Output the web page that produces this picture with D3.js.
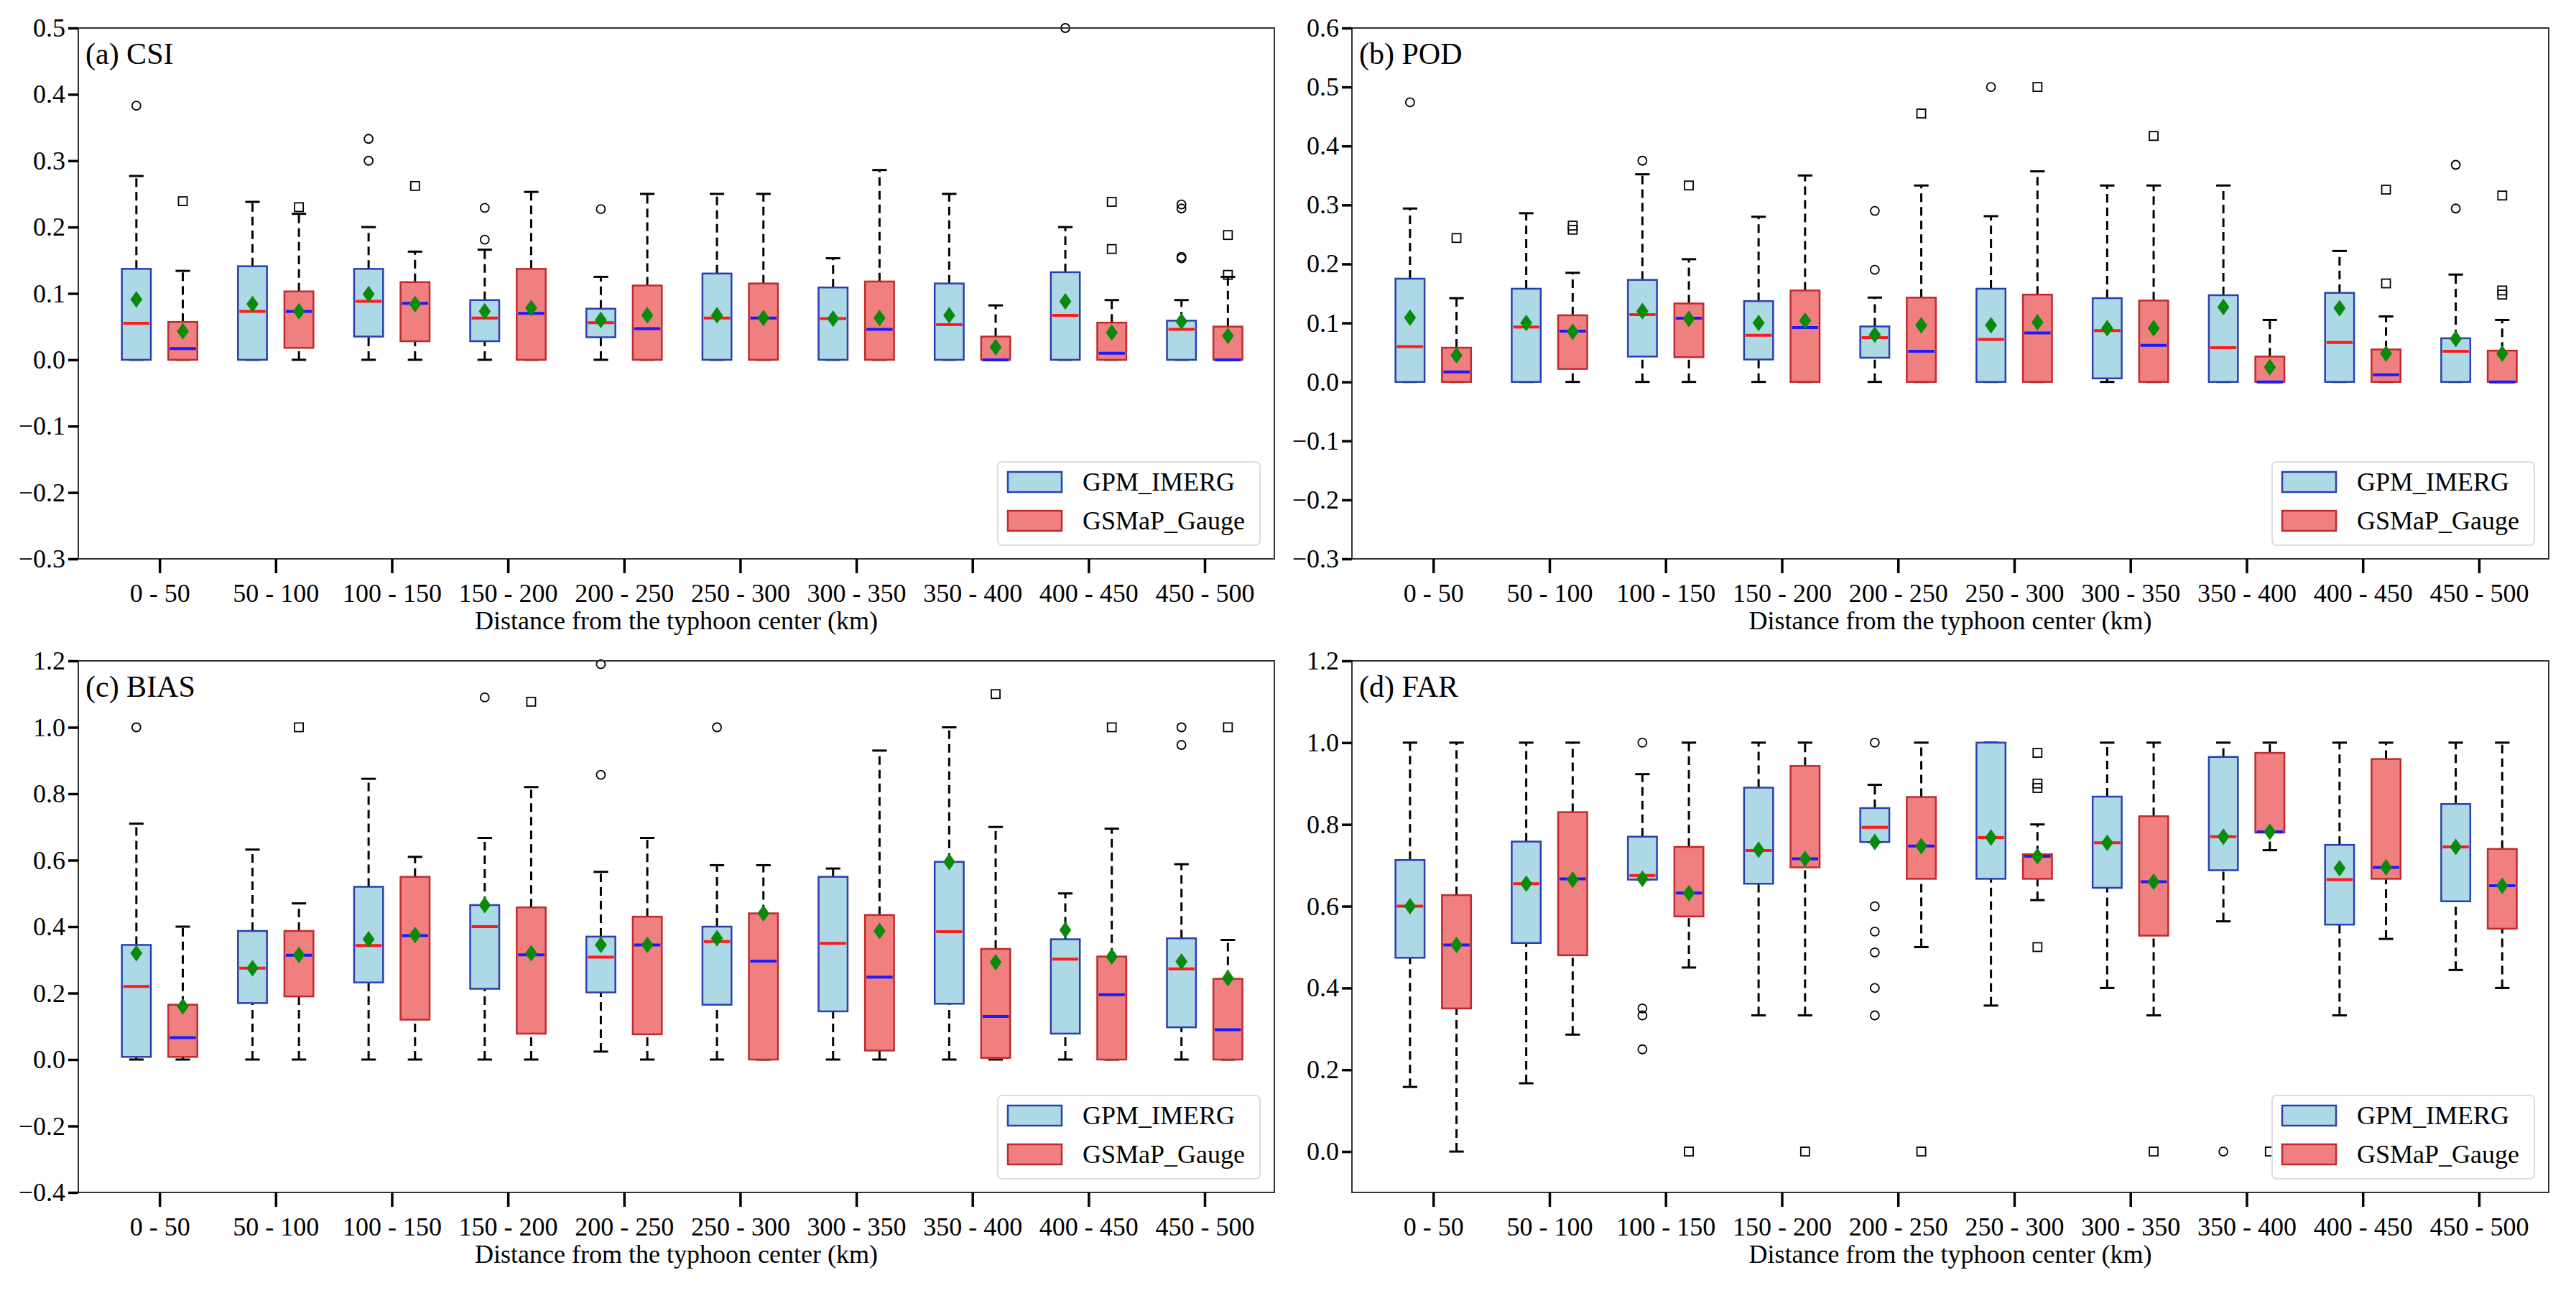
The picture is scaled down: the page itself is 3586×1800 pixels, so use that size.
<!DOCTYPE html>
<html><head><meta charset="utf-8">
<script src="https://cdn.jsdelivr.net/npm/d3@7"></script>
<style>body{margin:0;background:#fff}svg{font-family:"Liberation Serif","DejaVu Serif",serif}</style>
</head><body><div id="vis"></div>
<script>
// distance bins
let categories = ['0 - 50','50 - 100','100 - 150','150 - 200','200 - 250','250 - 300','300 - 350','350 - 400','400 - 450','450 - 500'];
let seriesNames = ['GPM_IMERG','GSMaP_Gauge'];

// each row: [q1, median, q3, whisker low, whisker high, mean, outliers]
let csiGPM = [[0,.055,.137,0,.277,.091,[.383]],[0,.073,.141,0,.238,.084,[]],[.035,.088,.137,0,.2,.099,[.30,.333]],[.028,.063,.09,0,.166,.073,[.181,.229]],[.034,.056,.077,0,.125,.06,[.227]],[0,.063,.13,0,.25,.067,[]],[0,.062,.109,0,.153,.062,[]],[0,.053,.115,0,.25,.067,[]],[0,.067,.132,0,.2,.088,[.5]],[0,.046,.059,0,.09,.058,[.153,.155,.228,.234]]];
let csiGSM = [[0,.017,.057,0,.134,.043,[.239]],[.018,.073,.103,0,.22,.073,[.23]],[.028,.085,.117,0,.163,.084,[.262]],[0,.07,.137,0,.253,.078,[]],[0,.047,.112,0,.25,.067,[]],[0,.063,.115,0,.25,.063,[]],[0,.046,.118,0,.286,.063,[]],[0,0,.035,0,.082,.019,[]],[0,.01,.056,0,.09,.041,[.167,.238]],[0,0,.05,0,.125,.036,[.128,.188]]];
let podGPM = [[0,.06,.175,0,.294,.109,[.474]],[0,.093,.158,0,.286,.1,[]],[.043,.114,.173,0,.352,.12,[.375]],[.038,.079,.137,0,.28,.1,[]],[.041,.075,.094,0,.143,.08,[.19,.29]],[0,.072,.158,0,.281,.096,[.5]],[.006,.087,.142,0,.333,.091,[]],[0,.058,.147,0,.333,.127,[]],[0,.067,.151,0,.222,.125,[]],[0,.052,.074,0,.182,.073,[.294,.368]]];
let podGSM = [[0,.017,.058,0,.142,.045,[.244]],[.022,.086,.113,0,.185,.085,[.258,.265]],[.042,.108,.133,0,.208,.107,[.333]],[0,.092,.155,0,.35,.104,[]],[0,.052,.143,0,.333,.096,[.455]],[0,.083,.148,0,.357,.101,[.5]],[0,.062,.138,0,.333,.091,[.417]],[0,0,.043,0,.105,.025,[]],[0,.012,.055,0,.111,.048,[.167,.326]],[0,0,.053,0,.105,.048,[.148,.155,.316]]];
let biasGPM = [[.008,.22,.345,0,.71,.32,[1.0]],[.17,.275,.387,0,.632,.275,[]],[.232,.343,.52,0,.845,.362,[]],[.213,.4,.465,0,.667,.465,[1.09]],[.202,.308,.37,.024,.565,.345,[.857,1.19]],[.165,.355,.4,0,.585,.365,[1.0]],[.145,.35,.55,0,.575,null,[]],[.168,.385,.595,0,1.0,.595,[]],[.078,.302,.362,0,.5,.39,[]],[.097,.273,.365,0,.588,.295,[.947,1.0]]];
let biasGSM = [[.008,.066,.165,0,.4,.16,[]],[.19,.314,.387,0,.47,.315,[1.0]],[.12,.373,.55,0,.61,.375,[]],[.078,.315,.458,0,.82,.32,[1.077]],[.076,.345,.43,0,.667,.345,[]],[0,.296,.44,0,.585,.44,[]],[.027,.248,.435,0,.93,.387,[]],[.005,.13,.333,0,.7,.293,[1.1]],[0,.195,.31,0,.695,.31,[1.0]],[0,.09,.243,0,.36,.245,[1.0]]];
let farGPM = [[.474,.6,.713,.158,1,.6,[]],[.51,.655,.758,.167,1,.655,[]],[.665,.675,.77,.665,.923,.667,[.25,.333,.35,1.0]],[.655,.736,.89,.333,1,.738,[]],[.757,.793,.84,.757,.897,.757,[.333,.4,.487,.538,.6,1.0]],[.667,.768,1,.357,1,.768,[]],[.645,.755,.868,.4,1,.755,[]],[.688,.77,.965,.563,1,.77,[0]],[.555,.665,.75,.333,1,.693,[]],[.612,.745,.85,.444,1,.745,[]]];
let farGSM = [[.35,.505,.627,0,1,.505,[]],[.48,.667,.83,.286,1,.665,[]],[.575,.632,.745,.45,1,.632,[0]],[.695,.716,.943,.333,1,.716,[0]],[.667,.747,.867,.5,1,.747,[0]],[.667,.722,.727,.615,.8,.722,[.5,.889,.9,.975]],[.528,.66,.82,.333,1,.66,[0]],[.78,.782,.975,.737,1,.782,[0]],[.667,.695,.96,.52,1,.695,[]],[.545,.65,.74,.4,1,.65,[]]];

let csiTicks = [-0.3,-0.2,-0.1,0,0.1,0.2,0.3,0.4,0.5];
let podTicks = [-0.3,-0.2,-0.1,0,0.1,0.2,0.3,0.4,0.5,0.6];
let biasTicks = [-0.4,-0.2,0,0.2,0.4,0.6,0.8,1.0,1.2];
let farTicks = [0,0.2,0.4,0.6,0.8,1.0,1.2];

let panels = [
  {title:'(a) CSI', g:csiGPM, s:csiGSM, dom:[-0.3,0.5], ticks:csiTicks, x0:109, x1:1774, y0:39, y1:778},
  {title:'(b) POD', g:podGPM, s:podGSM, dom:[-0.3,0.6], ticks:podTicks, x0:1882, x1:3548, y0:39, y1:778},
  {title:'(c) BIAS', g:biasGPM, s:biasGSM, dom:[-0.4,1.2], ticks:biasTicks, x0:109, x1:1774, y0:920, y1:1660},
  {title:'(d) FAR', g:farGPM, s:farGSM, dom:[-0.1,1.2], ticks:farTicks, x0:1882, x1:3548, y0:920, y1:1660}
];

let styles = [
  {fill:'#add8e6', edge:'#2b3fae', med:'#ff1a1a', flier:'circle'},
  {fill:'#f08080', edge:'#c02a2a', med:'#1a1aff', flier:'square'}
];

let svg = d3.select('#vis').append('svg').attr('width',3586).attr('height',1800);

panels.forEach(p => {
  let x = d3.scaleLinear().domain([-0.7, 9.6]).range([p.x0, p.x1]);
  let y = d3.scaleLinear().domain(p.dom).range([p.y1, p.y0]);
  let g = svg.append('g');
  let bw = x(0.25) - x(0);

  [p.g, p.s].forEach((data, si) => {
    let st = styles[si], off = si === 0 ? -0.2 : 0.2;
    data.forEach((d, i) => {
      let cx = x(i + off);
      let [q1, med, q3, lo, hi, mean, out] = d;
      // whiskers
      [[lo, q1], [q3, hi]].forEach(([a, b]) => {
        if (a !== b) g.append('line').attr('x1',cx).attr('x2',cx).attr('y1',y(a)).attr('y2',y(b))
          .attr('stroke','#000').attr('stroke-width',3).attr('stroke-dasharray','12,7');
      });
      [lo, hi].forEach(v => g.append('line').attr('x1',cx-bw/4).attr('x2',cx+bw/4).attr('y1',y(v)).attr('y2',y(v))
        .attr('stroke','#000').attr('stroke-width',3));
      g.append('rect').attr('x',cx-bw/2).attr('width',bw).attr('y',y(q3)).attr('height',Math.max(1,y(q1)-y(q3)))
        .attr('fill',st.fill).attr('stroke',st.edge).attr('stroke-width',2.5);
      g.append('line').attr('x1',cx-bw/2+2).attr('x2',cx+bw/2-2).attr('y1',y(med)).attr('y2',y(med))
        .attr('stroke',st.med).attr('stroke-width',4);
      out.forEach(v => {
        if (st.flier === 'circle') g.append('circle').attr('cx',cx).attr('cy',y(v)).attr('r',6)
          .attr('fill','none').attr('stroke','#000').attr('stroke-width',1.8);
        else g.append('rect').attr('x',cx-6).attr('y',y(v)-6).attr('width',12).attr('height',12)
          .attr('fill','none').attr('stroke','#000').attr('stroke-width',1.8);
      });
      if (mean !== null) g.append('path').attr('d', d3.symbol(d3.symbolDiamond2, 220)())
        .attr('transform',`translate(${cx},${y(mean)}) scale(0.9,1.25)`).attr('fill','#0a8a0a');
    });
  });

  // frame
  g.append('rect').attr('x',p.x0).attr('y',p.y0).attr('width',p.x1-p.x0).attr('height',p.y1-p.y0)
    .attr('fill','none').attr('stroke','#333').attr('stroke-width',2);

  let yAxis = d3.axisLeft(y).tickValues(p.ticks).tickFormat(d3.format('.1f')).tickSize(14).tickPadding(4);
  let ya = g.append('g').attr('transform',`translate(${p.x0},0)`).call(yAxis);
  let xAxis = d3.axisBottom(x).tickValues(d3.range(10)).tickFormat(i => categories[i]).tickSize(20).tickPadding(14);
  let xa = g.append('g').attr('transform',`translate(0,${p.y1})`).call(xAxis);
  [ya, xa].forEach(a => {
    a.select('.domain').remove();
    a.selectAll('.tick line').attr('stroke','#000').attr('stroke-width',3.5);
    a.selectAll('.tick text').attr('font-size',36).attr('fill','#000')
      .attr('font-family','"Liberation Serif",serif');
  });
  g.append('text').attr('x',(p.x0+p.x1)/2).attr('y',p.y1+98).attr('text-anchor','middle')
    .attr('font-size',36).text('Distance from the typhoon center (km)');
  g.append('text').attr('x',p.x0+10).attr('y',p.y0+50).attr('font-size',42).text(p.title);

  // legend
  let lw = 365, lh = 116, lx = p.x1 - 20 - lw, ly = p.y1 - 19 - lh;
  let lg = g.append('g').attr('transform',`translate(${lx},${ly})`);
  lg.append('rect').attr('width',lw).attr('height',lh).attr('rx',6).attr('fill','#fff')
    .attr('stroke','#ddd').attr('stroke-width',2);
  seriesNames.forEach((n, k) => {
    lg.append('rect').attr('x',14).attr('y',14 + k*54).attr('width',75).attr('height',28)
      .attr('fill',styles[k].fill).attr('stroke',styles[k].edge).attr('stroke-width',2.5);
    lg.append('text').attr('x',118).attr('y',40 + k*54).attr('font-size',36).text(n);
  });
});
</script></body></html>
